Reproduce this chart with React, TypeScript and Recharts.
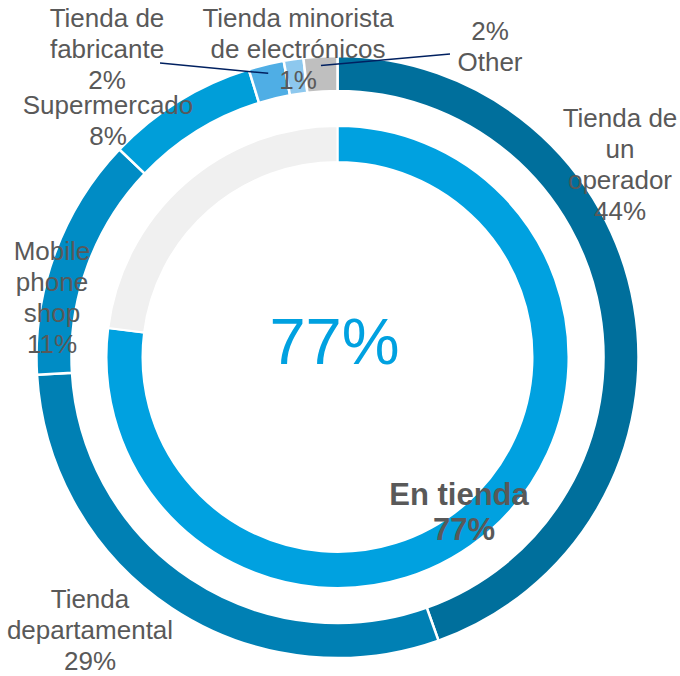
import React from 'react';
import { PieChart, Pie, Cell } from 'recharts';

// outer ring: channel breakdown (slice sizes)
const channels = [
  'Tienda de un operador',
  'Tienda departamental',
  'Mobile phone shop',
  'Supermercado',
  'Tienda de fabricante',
  'Tienda minorista de electrónicos',
  'Other',
];
const channelShares = [44.4, 29.4, 13.0, 8.1, 1.9, 1.05, 1.8];
const channelLabels = ['44%', '29%', '11%', '8%', '2%', '1%', '2%'];

// inner ring
const storeSplit = ['En tienda', 'Resto'];
const storeShares = [77, 23];
const storeLabel = '77%';

const outerColors = ['#006F9C', '#0080B4', '#008CC5', '#009ED9', '#4FAEE5', '#8DC8EE', '#BFBFBF'];
const innerColors = ['#00A1E0', '#F0F0F0'];

const outerData = channels.map((name, i) => ({ name, value: channelShares[i] }));
const innerData = storeSplit.map((name, i) => ({ name, value: storeShares[i] }));

const TEXT = '#595959';
const FONT = '"Liberation Sans", Arial, sans-serif';
const RAD = Math.PI / 180;

// chart margin is 5px, so the pie centre is given relative to that
const CX = 332.5;
const CY = 352;

// manual label placement (like the hand-moved labels in the source chart)
const labelLayout = [
  { x: 620, y: 127, lines: ['Tienda de', 'un', 'operador'] },
  { x: 90, y: 608, lines: ['Tienda', 'departamental'] },
  { x: 52, y: 260, lines: ['Mobile', 'phone', 'shop'] },
  { x: 108, y: 114, lines: ['Supermercado'] },
  { x: 107, y: 27, lines: ['Tienda de', 'fabricante'], leader: [160, 63] },
  { x: 298, y: 27, lines: ['Tienda minorista', 'de electrónicos'] },
  { x: 490, y: 40, lines: [], after: ['Other'], leader: [450, 54] },
];

const renderOuterLabel = (props: any) => {
  const { cx, cy, midAngle, outerRadius, index } = props;
  const cfg = labelLayout[index];
  const lines = [...cfg.lines, channelLabels[index], ...(cfg.after || [])];
  let leader = null;
  if (cfg.leader) {
    const r = outerRadius - 9;
    const ex = cx + Math.cos(-midAngle * RAD) * r;
    const ey = cy + Math.sin(-midAngle * RAD) * r;
    leader = (
      <line x1={cfg.leader[0]} y1={cfg.leader[1]} x2={ex} y2={ey} stroke="#002060" strokeWidth={1.5} />
    );
  }
  return (
    <g key={`ol-${index}`}>
      {leader}
      <text x={cfg.x} y={cfg.y} textAnchor="middle" fill={TEXT} fontSize={26} fontFamily={FONT}>
        {lines.map((l, i) => (
          <tspan key={i} x={cfg.x} dy={i === 0 ? 0 : 31}>
            {l}
          </tspan>
        ))}
      </text>
    </g>
  );
};

const renderInnerLabel = (props: any) => {
  const { cx, cy, index } = props;
  if (index !== 0) return null;
  return (
    <g key="il">
      <text x={cx - 3} y={cy + 7} textAnchor="middle" fill="#00A1E0" fontSize={65} fontFamily={FONT}>
        {storeLabel}
      </text>
      <text x={459} y={505} textAnchor="middle" fill={TEXT} fontSize={31} fontWeight="bold" fontFamily={FONT}>
        <tspan x={459} dy={0}>{storeSplit[0]}</tspan>
        <tspan x={464} dy={35}>{storeLabel}</tspan>
      </text>
    </g>
  );
};

export default function App() {
  return (
    <div style={{ position: 'absolute', left: 0, top: 0, background: '#fff' }}>
      <PieChart width={680} height={676}>
        <Pie
          data={innerData}
          dataKey="value"
          cx={CX}
          cy={CY}
          innerRadius={195}
          outerRadius={231}
          startAngle={90}
          endAngle={-270}
          stroke="#fff"
          strokeWidth={2}
          label={renderInnerLabel}
          labelLine={false}
          isAnimationActive={false}
        >
          {innerData.map((d, i) => (
            <Cell key={d.name} fill={innerColors[i]} />
          ))}
        </Pie>
        <Pie
          data={outerData}
          dataKey="value"
          cx={CX}
          cy={CY}
          innerRadius={266}
          outerRadius={301}
          startAngle={90}
          endAngle={-270}
          stroke="#fff"
          strokeWidth={2.5}
          label={renderOuterLabel}
          labelLine={false}
          isAnimationActive={false}
        >
          {outerData.map((d, i) => (
            <Cell key={d.name} fill={outerColors[i]} />
          ))}
        </Pie>
      </PieChart>
    </div>
  );
}
